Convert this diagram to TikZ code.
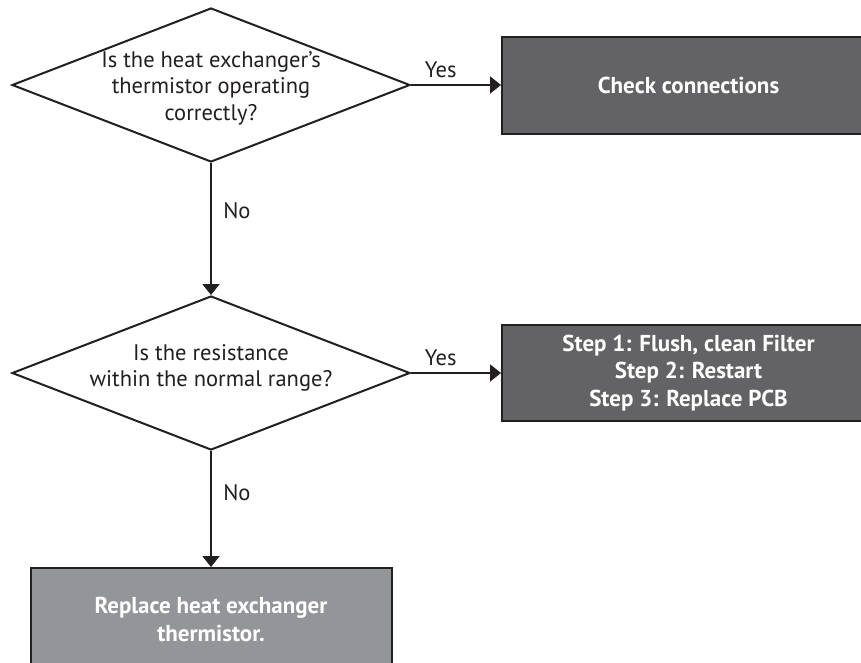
\documentclass[tikz,border=0pt]{standalone}
\usepackage{fontspec}
\setmainfont{PT Sans}
\usepackage{tikz}
\usetikzlibrary{arrows.meta, positioning, shapes.geometric}

\definecolor{boxdark}{HTML}{636365}
\definecolor{boxlight}{HTML}{939598}
\definecolor{inkline}{HTML}{231F20}

\begin{document}
\begin{tikzpicture}[
  x=1pt, y=-1pt,
  >={Triangle[length=11pt, width=17pt]},
  every node/.style={font=\fontsize{22.5}{26.5}\selectfont},
  decision/.style={
    draw=inkline, shape=diamond, line width=2pt, inner sep=0pt,
    minimum width=398pt, minimum height=154pt
  },
  question/.style={align=center, text=inkline},
  action/.style={
    draw=inkline, line width=2pt, fill=boxdark, text=white, align=center,
    minimum width=373pt, minimum height=97pt,
    font=\fontsize{23}{27.5}\selectfont\bfseries
  },
  final/.style={action, fill=boxlight, minimum width=361pt, minimum height=106pt},
  flow/.style={->, line width=2pt, draw=inkline},
  answer/.style={text=inkline}
]

\clip (0,0) rectangle (861,662);
\fill[white] (0,0) rectangle (861,662);

% --- Decisions ---
\node[decision] (q1) at (211,85) {};
\node[question] (q1text) at ([yshift=-3pt]q1.center) {Is the heat exchanger’s\\thermistor operating\\correctly?};
\node[decision, below=132pt of q1] (q2) {};
\node[question] (q2text) at ([yshift=5pt]q2.center) {Is the resistance\\within the normal range?};

% --- Actions ---
\node[action, right=90pt of q1] (check) {Check connections};
\node[action, right=90pt of q2, minimum height=96pt] (steps) {Step 1: Flush, clean Filter\\Step 2: Restart\\Step 3: Replace PCB};
\node[final, below=116pt of q2] (replace) {};
\node[text=white, align=center, font=\fontsize{23}{28}\selectfont\bfseries] (replacetext) at ([yshift=2pt]replace.center) {Replace heat exchanger\\thermistor.};

% --- Arrows ---
\draw[flow] (q1) -- (check) node[pos=0.33, above=3pt, answer] {Yes};
\draw[flow] (q1) -- (q2) node[pos=0.36, right=8pt, answer] {No};
\draw[flow] (q2) -- (steps) node[pos=0.33, above=3pt, answer] {Yes};
\draw[flow] (q2) -- (replace) node[pos=0.36, right=8pt, answer] {No};

\end{tikzpicture}
\end{document}
